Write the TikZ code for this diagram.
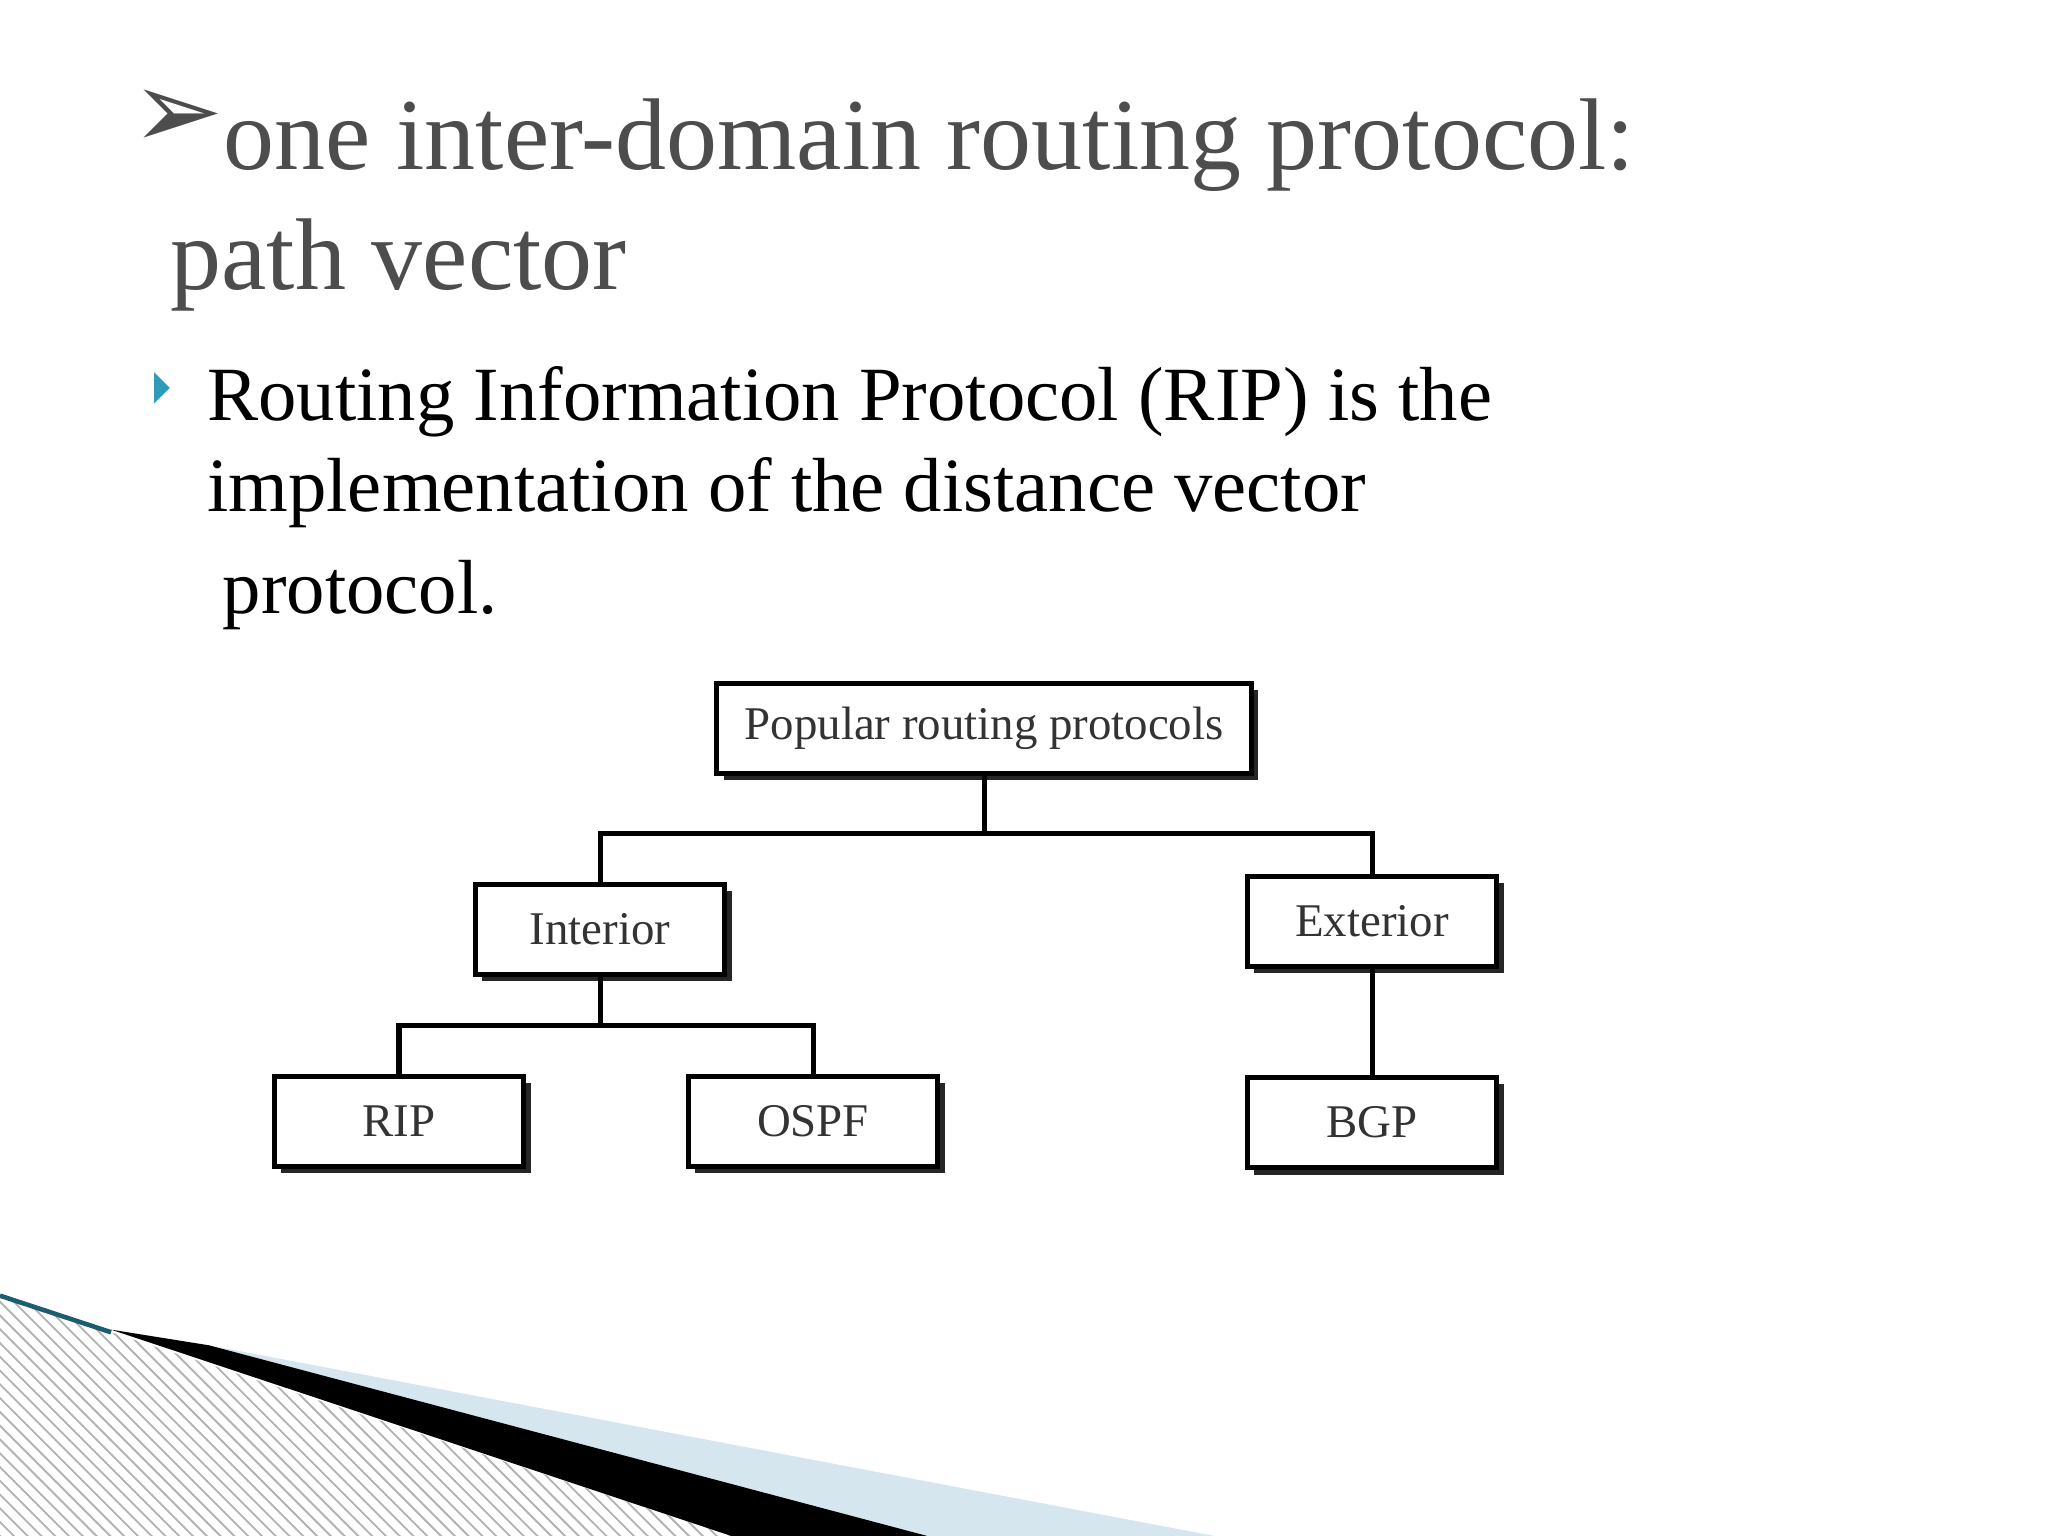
\documentclass[tikz,border=0pt]{standalone}
\usepackage{fontspec}
\setmainfont{Liberation Serif}
\newfontfamily\symfont{DejaVu Sans}
\usetikzlibrary{patterns,shadows}
\definecolor{titlegray}{HTML}{4D4D4D}
\definecolor{teal1}{HTML}{2E9BB8}
\definecolor{lightblue}{HTML}{D6E6EE}
\begin{document}
\begin{tikzpicture}[x=0.01cm,y=-0.01cm,
  pbox/.style={draw,line width=1.1pt,fill=white,minimum width=1.91cm,minimum height=0.69cm,font=\fontsize{10.2}{12}\selectfont,text=black!80,
    drop shadow={shadow xshift=1.5pt,shadow yshift=-1.5pt,fill=black!85,opacity=1}},
  conn/.style={line width=1.1pt}]
\useasboundingbox (0,0) rectangle (1568,1176);
% decoration
\fill[pattern=north west lines,pattern color=black!30] (0,992)--(85,1020)--(560,1176)--(0,1176)--cycle;
\fill[lightblue] (160,1030)--(930,1176)--(700,1176)--cycle;
\fill[black] (85,1018)--(160,1030)--(710,1176)--(560,1176)--cycle;
\draw[teal1!60!black,line width=1pt] (0,992)--(85,1020);
% title
\node[anchor=base west,text=titlegray,font=\fontsize{22.2}{26}\selectfont,inner sep=0] (t1) at (100,130) {{\symfont\fontsize{24}{26}\selectfont\raisebox{0.35ex}{➢}}one inter-domain routing protocol:};
\node[anchor=base west,text=titlegray,font=\fontsize{22.2}{26}\selectfont,inner sep=0] (t2) at (130,222) {path vector};
\fill[teal1] (118,285)--(130,297)--(118,309)--cycle;
\node[anchor=base west,font=\fontsize{16.7}{20}\selectfont,inner sep=0] (b1) at (158,322) {Routing Information Protocol (RIP) is the};
\node[anchor=base west,font=\fontsize{16.7}{20}\selectfont,inner sep=0] (b2) at (158,392) {implementation of the distance vector};
\node[anchor=base west,font=\fontsize{16.7}{20}\selectfont,inner sep=0] (b3) at (170,470) {protocol.};
% boxes
\node[pbox,minimum width=4.09cm] (pop) at (753.5,557.5) {Popular routing protocols};
\node[pbox] (int) at (459.5,711.5) {Interior};
\node[pbox] (ext) at (1050.5,705.5) {Exterior};
\node[pbox] (rip) at (305.5,858.5) {RIP};
\node[pbox] (ospf) at (622.5,858.5) {OSPF};
\node[pbox] (bgp) at (1050.5,859.5) {BGP};
\draw[conn] (pop.south) -- ++(0,44) coordinate (m1);
\draw[conn] (int.north) |- (m1) -| (ext.north);
\draw[conn] (int.south) -- ++(0,37) coordinate (m2);
\draw[conn] (rip.north) |- (m2) -| (ospf.north);
\draw[conn] (ext) -- (bgp);
\end{tikzpicture}
\end{document}
